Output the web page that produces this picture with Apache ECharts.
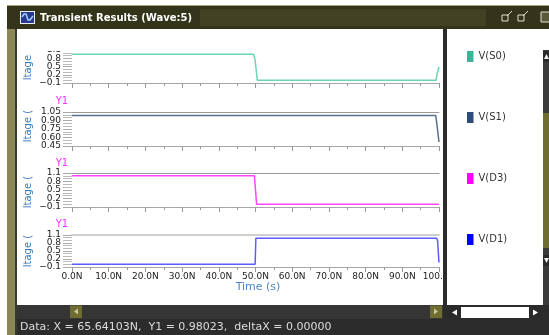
<!DOCTYPE html>
<html><head><meta charset="utf-8">
<script src="https://cdn.jsdelivr.net/npm/echarts@6/dist/echarts.min.js"></script>
<style>html,body{margin:0;padding:0;background:#fff}#c{width:549px;height:335px}</style>
</head><body><div id="c"></div>
<script>
// ---- data ----
const titleText = 'Transient Results (Wave:5)';
const statusText = 'Data: X = 65.64103N,  Y1 = 0.98023,  deltaX = 0.00000';
const xAxisTitle = 'Time (s)';
const yAxisTitleVisible = ['ltage (', 'ltage (', 'ltage (', 'ltage ('];
const cursorLabel = 'Y1';
const signalNames = ['V(S0)', 'V(S1)', 'V(D3)', 'V(D1)'];
const lineColors = ['#6cd4b6', '#56708f', '#ff44ff', '#5c5cff'];
const legendColors = ['#36b898', '#2d4c77', '#ff00ff', '#0000ff'];

const timeTicks = [0, 10, 20, 30, 40, 50, 60, 70, 80, 90, 100]; // ns

const s0Time = [0, 49.5, 49.9, 50.5, 99.2, 99.5, 100];
const s0Volt = [0.95, 0.95, 0.72, 0.0, 0.0, 0.23, 0.48];
const s1Time = [0, 99.1, 99.4, 100];
const s1Volt = [0.99, 0.99, 0.85, 0.52];
const d3Time = [0, 49.7, 50.3, 100];
const d3Volt = [1.0, 1.0, 0.0, 0.0];
const d1Time = [0, 49.9, 50.1, 99.3, 99.6, 100];
const d1Volt = [0.0, 0.0, 0.98, 0.98, 0.9, 0.07];

const yTicksS0 = [-0.1, 0.2, 0.5, 0.8, 1.1];
const yTicksS1 = [0.45, 0.60, 0.75, 0.90, 1.05];
const yTicksD3 = [-0.1, 0.2, 0.5, 0.8, 1.1];
const yTicksD1 = [-0.1, 0.2, 0.5, 0.8, 1.1];
const yDecimals = [1, 2, 1, 1];

// ---- layout ----
const times = [s0Time, s1Time, d3Time, d1Time];
const volts = [s0Volt, s1Volt, d3Volt, d1Volt];
const yTicks = [yTicksS0, yTicksS1, yTicksD3, yTicksD1];
const panelTop = [50, 112, 173, 235];
const panelH = [33, 34, 34, 32];
const gridLeft = 72, gridRight = 110;
const nameY = [64, 126, 192, 251];
const y1LabelY = [null, 101, 163, 224];
const FONT = 'DejaVu Sans';

const grids = [], xAxes = [], yAxes = [], series = [];
function labelIndex(t, v) {
  let best = 0, d = Infinity;
  t.forEach((tv, k) => { const dd = Math.abs(tv - v); if (dd < d) { d = dd; best = k; } });
  return best;
}
function yAxisDef(i, parity, primary) {
  const t = yTicks[i];
  return {
    type: 'value', gridIndex: i, position: 'left', offset: 0,
    min: t[0], max: t[t.length - 1], interval: +(t[1] - t[0]).toFixed(4),
    axisLine: { show: false },
    axisTick: { show: primary, length: 9, lineStyle: { color: '#aaa' } },
    minorTick: { show: primary, splitNumber: 3, length: 9, lineStyle: { color: '#bbb' } },
    splitLine: { show: false },
    axisLabel: {
      margin: 11, color: '#1a1a1a', fontFamily: FONT, fontSize: 9,
      lineHeight: 9, padding: [0, 0, 4, 0],
      interval: 0, hideOverlap: false, showMinLabel: true, showMaxLabel: true,
      formatter: v => (labelIndex(t, v) % 2 === parity) ? v.toFixed(yDecimals[i]).replace('-', '\u2212') : ''
    }
  };
}
for (let i = 0; i < 4; i++) {
  grids.push({ left: gridLeft, right: gridRight, top: panelTop[i], height: panelH[i], outerBoundsMode: 'none', containLabel: false });
  const last = i === 3;
  xAxes.push({
    type: 'value', gridIndex: i, position: 'bottom',
    min: timeTicks[0], max: timeTicks[timeTicks.length - 1], interval: timeTicks[1] - timeTicks[0],
    axisLine: { show: true, onZero: false, lineStyle: { color: '#a8a8a8', width: 1 } },
    axisTick: { show: true, length: 5, lineStyle: { color: '#999' } },
    minorTick: { show: true, splitNumber: 2, length: 3, lineStyle: { color: '#999' } },
    splitLine: { show: false },
    axisLabel: {
      show: last, margin: 5, color: '#222', fontFamily: FONT, fontSize: 9, interval: 0,
      showMinLabel: true, showMaxLabel: true,
      formatter: v => v.toFixed(1) + 'N', hideOverlap: false
    }
  });
  yAxes.push(yAxisDef(i, 0, true));
  series.push({
    name: signalNames[i], type: 'line', xAxisIndex: i, yAxisIndex: i,
    data: times[i].map((x, k) => [x, volts[i][k]]),
    symbol: 'none', showSymbol: false, animation: false,
    lineStyle: { color: lineColors[i], width: 1.5 },
    itemStyle: { color: legendColors[i] }
  });
}
for (let i = 0; i < 4; i++) yAxes.push(yAxisDef(i, 1, false));
// top border lines of each panel
for (let i = 0; i < 4; i++) {
  xAxes.push({
    type: 'value', gridIndex: i, position: 'top',
    min: timeTicks[0], max: timeTicks[timeTicks.length - 1],
    axisLine: { show: true, onZero: false, lineStyle: { color: i === 3 ? '#cfcfcf' : '#9a9a9a', width: i === 3 ? 2 : 1 } },
    axisTick: { show: false }, axisLabel: { show: false }, splitLine: { show: false }
  });
}

// ---- chrome ----
const g = [];
const rect = (x, y, w, h, fill, z, extra) => g.push(Object.assign({ type: 'rect', shape: { x, y, width: w, height: h }, style: { fill }, z: z || 0, silent: true }, extra || {}));
const poly = (pts, fill, z) => g.push({ type: 'polygon', shape: { points: pts }, style: { fill }, z: z || 0, silent: true });
const text = (x, y, s, style, z, rot) => g.push({ type: 'text', x, y, rotation: rot || 0, style: Object.assign({ text: s, fontFamily: FONT }, style), z: z || 0, silent: true });

// covers (clipping of scrolled view)
rect(17, 29, 426, 22, '#fff', 100);
rect(447, 29, 96, 22, '#fff', 100);
rect(447, 250, 96, 56, '#fff', 100);
// left frame
rect(7, 5, 8, 330, '#8b8757', 110);
rect(15, 29, 2, 306, '#3a3a2c', 110);
// title bar
rect(7, 5, 542, 1, '#a8a476', 110);
rect(7, 6, 542, 23, '#34341a', 110);
rect(200, 9, 286, 17, '#414124', 110);
rect(20, 11, 15, 13, '#e8eef8', 111);
rect(21, 12, 13, 11, '#2a3a8a', 111);
g.push({ type: 'polyline', shape: { points: [[22, 17], [24, 14], [26, 14], [28, 20], [30, 20], [33, 16]] }, style: { stroke: '#9fd0ff', lineWidth: 1.5, fill: null }, z: 112, silent: true });
text(40, 18, titleText, { fill: '#ffffff', fontSize: 10, fontWeight: 'bold', textVerticalAlign: 'middle' }, 112);
// title icons
rect(502, 15, 6, 6, null, 112, { style: { fill: 'none', stroke: '#e0e0d0', lineWidth: 1 } });
g.push({ type: 'line', shape: { x1: 507, y1: 16, x2: 512, y2: 11 }, style: { stroke: '#e0e0d0', lineWidth: 1 }, z: 112, silent: true });
rect(518, 15, 6, 6, null, 112, { style: { fill: 'none', stroke: '#e0e0d0', lineWidth: 1 } });
g.push({ type: 'line', shape: { x1: 523, y1: 16, x2: 528, y2: 11 }, style: { stroke: '#e0e0d0', lineWidth: 1 }, z: 112, silent: true });
rect(541, 12, 9, 10, null, 112, { style: { fill: '#5a5a3a', stroke: '#e0e0d0', lineWidth: 1 } });
// divider
rect(443, 29, 4, 290, '#2b2b2b', 110);
// right vertical scrollbar
rect(543, 50, 6, 255, '#3a3a3a', 110);
rect(543, 51, 6, 11, '#2a2a2a', 111);
poly([[544, 59], [549, 59], [546.5, 54]], '#eee', 112);
rect(543, 113, 6, 135, '#6f6d30', 111);
rect(543, 255, 6, 11, '#2a2a2a', 111);
poly([[544, 258], [549, 258], [546.5, 263]], '#eee', 112);
// bottom horizontal scrollbar
rect(17, 305, 426, 14, '#363636', 110);
rect(70, 305.5, 12, 12.5, '#6f6d30', 111);
poly([[74, 311.5], [78, 308.5], [78, 314.5]], '#c8c6a0', 112);
rect(430, 305.5, 12, 12.5, '#6f6d30', 111);
poly([[438, 311.5], [434, 308.5], [434, 314.5]], '#c8c6a0', 112);
// legend-side scrollbar
rect(447, 305, 96, 14, '#2b2b2b', 110);
rect(449, 307, 92, 11, '#ffffff', 111);
rect(449, 307, 12, 11, '#2a2a2a', 112);
poly([[452, 312.5], [457, 309.5], [457, 315.5]], '#fff', 113);
rect(529, 307, 12, 11, '#2a2a2a', 112);
poly([[538, 312.5], [533, 309.5], [533, 315.5]], '#fff', 113);
rect(543, 305, 6, 14, '#2b2b2b', 110);
// status bar
rect(17, 319, 532, 16, '#2c2c2c', 110);
text(20, 327, statusText, { fill: '#dcdcdc', fontSize: 11, textVerticalAlign: 'middle' }, 112);
// axis names and cursor labels
for (let i = 0; i < 4; i++) {
  text(28, nameY[i], yAxisTitleVisible[i], { fill: '#3a7ab8', fontSize: 10, textAlign: 'center', textVerticalAlign: 'middle' }, 5, Math.PI / 2);
  if (y1LabelY[i] !== null) text(62, y1LabelY[i], cursorLabel, { fill: '#ff33ff', fontSize: 10, textAlign: 'center', textVerticalAlign: 'middle' }, 5);
}
text(258, 287, xAxisTitle, { fill: '#4a86c6', fontSize: 11, textAlign: 'center', textVerticalAlign: 'middle' }, 5);

const chart = echarts.init(document.getElementById('c'), null, { renderer: 'canvas' });
chart.setOption({
  backgroundColor: '#ffffff',
  animation: false,
  grid: grids,
  xAxis: xAxes,
  yAxis: yAxes,
  legend: {
    orient: 'vertical', left: 462, top: 46, itemWidth: 6.5, itemHeight: 11, itemGap: 50,
    icon: 'rect', selectedMode: false, data: signalNames,
    textStyle: { color: '#333', fontFamily: FONT, fontSize: 10 }
  },
  graphic: g,
  series: series
});
</script></body></html>
